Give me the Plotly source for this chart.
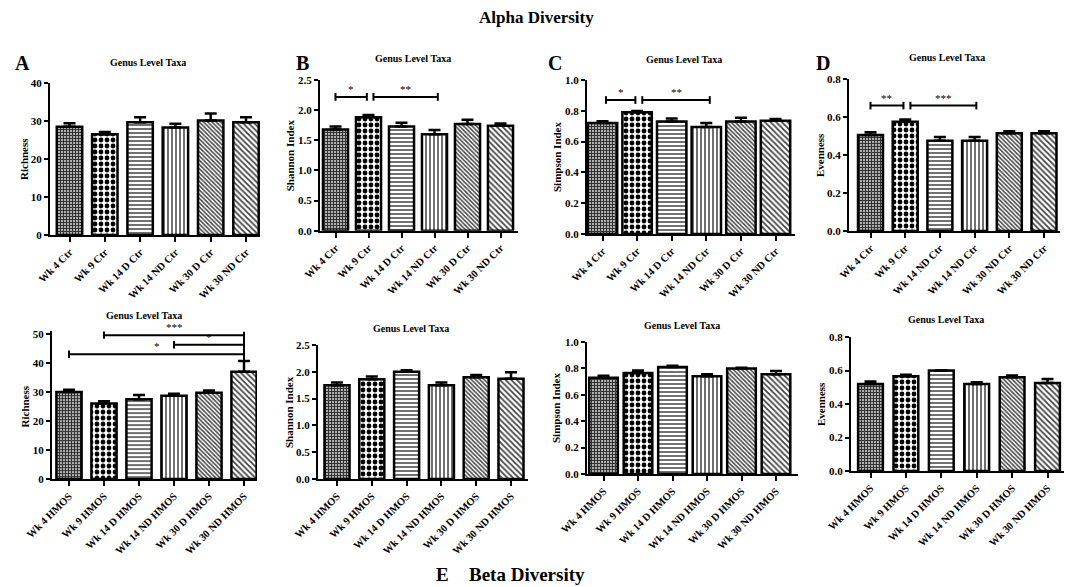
import plotly.graph_objects as go

W, H = 1072, 587
OFF = 8  # page body margin of the browser

# ---------------- data ----------------
ctr_labels = ["Wk 4 Ctr", "Wk 9 Ctr", "Wk 14 D Ctr", "Wk 14 ND Ctr", "Wk 30 D Ctr", "Wk 30 ND Ctr"]
ctr_labels_d = ["Wk 4 Ctr", "Wk 9 Ctr", "Wk 14 ND Ctr", "Wk 14 ND Ctr", "Wk 30 ND Ctr", "Wk 30 ND Ctr"]
hmos_labels = ["Wk 4 HMOS", "Wk 9 HMOS", "Wk 14 D HMOS", "Wk 14 ND HMOS", "Wk 30 D HMOS", "Wk 30 ND HMOS"]

richness_ctr = [28.5, 26.5, 29.7, 28.3, 30.1, 29.7]
richness_ctr_err = [0.9, 0.6, 1.3, 1.0, 1.9, 1.3]
shannon_ctr = [1.68, 1.88, 1.73, 1.60, 1.77, 1.74]
shannon_ctr_err = [0.05, 0.04, 0.06, 0.07, 0.07, 0.04]
simpson_ctr = [0.72, 0.79, 0.73, 0.695, 0.73, 0.735]
simpson_ctr_err = [0.012, 0.008, 0.02, 0.025, 0.025, 0.012]
evenness_ctr = [0.505, 0.575, 0.475, 0.475, 0.515, 0.515]
evenness_ctr_err = [0.015, 0.012, 0.02, 0.02, 0.01, 0.01]

richness_hmos = [30.0, 26.0, 27.5, 28.7, 29.7, 37.0]
richness_hmos_err = [0.8, 0.8, 1.5, 0.7, 0.8, 3.7]
shannon_hmos = [1.75, 1.86, 2.00, 1.75, 1.90, 1.87]
shannon_hmos_err = [0.05, 0.05, 0.03, 0.05, 0.04, 0.12]
simpson_hmos = [0.73, 0.765, 0.81, 0.74, 0.80, 0.755]
simpson_hmos_err = [0.015, 0.02, 0.01, 0.015, 0.005, 0.025]
evenness_hmos = [0.52, 0.565, 0.60, 0.52, 0.56, 0.525]
evenness_hmos_err = [0.015, 0.01, 0.0, 0.01, 0.01, 0.025]

# significance brackets: (from, to, y, label)
sig_shannon_ctr = [(0.0, 0.95, 2.22, "*"), (1.15, 3.1, 2.22, "**")]
sig_simpson_ctr = [(0.1, 0.95, 0.87, "*"), (1.15, 3.1, 0.87, "**")]
sig_evenness_ctr = [(0.0, 0.95, 0.66, "**"), (1.15, 3.05, 0.66, "***")]
sig_richness_hmos = [(1.0, 5.0, 49.6, "***"), (3.0, 5.0, 46.3, "*"), (0.0, 5.0, 43.0, "*")]

# ---------------- layout of panels (pixel geometry) ----------------
panels = [
    dict(labels=ctr_labels, vals=richness_ctr, errs=richness_ctr_err, ytitle="Richness", tx=24,
         ax=50, end=260, c0=69.5, sp=35.3, y0=235, ytop=83, vmax=40, rmax=40, dtick=10, dec=0,
         bw=0.72, letter="A", sig=[]),
    dict(labels=ctr_labels, vals=shannon_ctr, errs=shannon_ctr_err, ytitle="Shannon Index", tx=290,
         ax=320, end=518, c0=335.5, sp=33.0, y0=230.7, ytop=80, vmax=2.5, rmax=2.5, dtick=0.5, dec=1,
         bw=0.76, letter="B", sig=sig_shannon_ctr),
    dict(labels=ctr_labels, vals=simpson_ctr, errs=simpson_ctr_err, ytitle="Simpson Index", tx=557,
         ax=587, end=795, c0=602.5, sp=34.6, y0=234, ytop=80, vmax=1.0, rmax=1.0, dtick=0.2, dec=1,
         bw=0.85, letter="C", sig=sig_simpson_ctr),
    dict(labels=ctr_labels_d, vals=evenness_ctr, errs=evenness_ctr_err, ytitle="Evenness", tx=820,
         ax=849, end=1060, c0=870.5, sp=34.7, y0=231, ytop=79, vmax=0.8, rmax=0.8, dtick=0.2, dec=1,
         bw=0.72, letter="D", sig=sig_evenness_ctr),
    dict(labels=hmos_labels, vals=richness_hmos, errs=richness_hmos_err, ytitle="Richness", tx=24,
         ax=52, end=257, c0=69.0, sp=35.0, y0=479, ytop=334, vmax=50, rmax=51, dtick=10, dec=0,
         bw=0.72, letter=None, sig=sig_richness_hmos),
    dict(labels=hmos_labels, vals=shannon_hmos, errs=shannon_hmos_err, ytitle="Shannon Index", tx=289,
         ax=318, end=528, c0=337.0, sp=34.8, y0=479, ytop=345, vmax=2.5, rmax=2.5, dtick=0.5, dec=1,
         bw=0.72, letter=None, sig=[]),
    dict(labels=hmos_labels, vals=simpson_hmos, errs=simpson_hmos_err, ytitle="Simpson Index", tx=556,
         ax=587, end=798, c0=603.5, sp=34.5, y0=474, ytop=342, vmax=1.0, rmax=1.0, dtick=0.2, dec=1,
         bw=0.83, letter=None, sig=[]),
    dict(labels=hmos_labels, vals=evenness_hmos, errs=evenness_hmos_err, ytitle="Evenness", tx=821,
         ax=851, end=1065, c0=870.5, sp=35.4, y0=471, ytop=337, vmax=0.8, rmax=0.8, dtick=0.2, dec=1,
         bw=0.70, letter=None, sig=[]),
]

title_pos = [(148, 63), (413, 59), (684, 60), (947, 58), (144, 315), (411, 328), (682, 325), (946, 319)]
letter_pos = [(22, 63), (302, 63), (555, 63), (823, 63)]

pattern_shapes = ["+", ".", "-", "|", "\\", "\\"]
pattern_sizes = [3, 6, 4, 4, 3, 4]
pattern_solid = [0.7, 0.5, 0.35, 0.35, 0.5, 0.45]
pattern_fg = ["#333333", "#000000", "#333333", "#333333", "#444444", "#444444"]

FONT = "Liberation Serif"

fig = go.Figure()
layout = dict(
    width=W, height=H, margin=dict(l=0, r=0, t=0, b=0, autoexpand=False),
    plot_bgcolor="white", paper_bgcolor="white", showlegend=False,
    font=dict(family=FONT, color="black"),
)
shapes = []
annotations = []

def px_x(p):
    return (p - OFF) / W

def px_y(p):
    return 1 - (p - OFF) / H

for k, p in enumerate(panels):
    idx = k + 1
    xa = "xaxis" if idx == 1 else f"xaxis{idx}"
    ya = "yaxis" if idx == 1 else f"yaxis{idx}"
    xr = "x" if idx == 1 else f"x{idx}"
    yr = "y" if idx == 1 else f"y{idx}"
    xs = list(range(len(p["vals"])))

    fig.add_trace(go.Bar(
        x=xs, y=p["vals"], xaxis=xr, yaxis=yr, width=p["bw"],
        marker=dict(
            color="white",
            line=dict(color="black", width=2.5),
            pattern=dict(shape=pattern_shapes, size=pattern_sizes, solidity=pattern_solid,
                         fgcolor=pattern_fg, bgcolor="white", fillmode="replace"),
        ),
        error_y=dict(type="data", array=p["errs"], arrayminus=[0] * len(p["errs"]), symmetric=False,
                     color="black", thickness=2.5, width=6),
        hoverinfo="skip",
    ))

    lo = (p["ax"] - p["c0"]) / p["sp"]
    hi = (p["end"] - p["c0"]) / p["sp"]
    scale = (p["y0"] - p["ytop"]) / p["vmax"]
    top_px = p["y0"] - scale * p["rmax"]

    nt = int(round(p["vmax"] / p["dtick"]))
    yt_vals = [i * p["dtick"] for i in range(nt + 1)]
    yt_text = [f"{v:.{p['dec']}f}" for v in yt_vals]

    layout[xa] = dict(
        domain=[px_x(p["ax"]), px_x(p["end"])], range=[lo, hi], anchor=yr, automargin=False,
        tickvals=xs, ticktext=p["labels"], tickangle=-45,
        showline=True, linecolor="black", linewidth=2, ticks="outside", ticklen=5, tickwidth=2,
        tickcolor="black", showgrid=False, zeroline=False, fixedrange=True,
        tickfont=dict(family=FONT, size=10.5, color="black", weight="bold"),
    )
    layout[ya] = dict(
        domain=[px_y(p["y0"]), px_y(top_px)], range=[0, p["rmax"]], anchor=xr, automargin=False,
        tickmode="array", tickvals=yt_vals, ticktext=yt_text,
        showline=True, linecolor="black", linewidth=2, ticks="outside", ticklen=4, tickwidth=2,
        tickcolor="black", showgrid=False, zeroline=False, fixedrange=True,
        tickfont=dict(family=FONT, size=11, color="black", weight="bold"),
    )
    annotations.append(dict(x=px_x(p["tx"]), y=px_y((p["y0"] + p["ytop"]) / 2), xref="paper", yref="paper",
                            text=p["ytitle"], textangle=-90, showarrow=False,
                            xanchor="center", yanchor="middle",
                            font=dict(family=FONT, size=11, color="black", weight="bold")))

    # significance brackets
    tick_h = p["rmax"] * 0.025
    for (a, b, yv, lab) in p["sig"]:
        shapes.append(dict(type="line", xref=xr, yref=yr, x0=a, x1=b, y0=yv, y1=yv,
                           line=dict(color="black", width=2)))
        shapes.append(dict(type="line", xref=xr, yref=yr, x0=a, x1=a, y0=yv - tick_h, y1=yv + tick_h,
                           line=dict(color="black", width=2)))
        if k != 4:
            shapes.append(dict(type="line", xref=xr, yref=yr, x0=b, x1=b, y0=yv - tick_h, y1=yv + tick_h,
                               line=dict(color="black", width=2)))
        annotations.append(dict(x=(a + b) / 2, y=yv, xref=xr, yref=yr, text=lab, showarrow=False,
                                yanchor="bottom", yshift=0,
                                font=dict(family=FONT, size=11, color="black")))
    if k == 4:
        last = len(p["vals"]) - 1
        shapes.append(dict(type="line", xref=xr, yref=yr, x0=last, x1=last,
                           y0=p["vals"][last] + p["errs"][last], y1=50.8,
                           line=dict(color="black", width=2)))

    tx, ty = title_pos[k]
    annotations.append(dict(x=px_x(tx), y=px_y(ty), xref="paper", yref="paper", text="Genus Level Taxa",
                            showarrow=False, xanchor="center", yanchor="middle",
                            font=dict(family=FONT, size=10, color="black", weight="bold")))
    if p["letter"]:
        lx, ly = letter_pos[k]
        annotations.append(dict(x=px_x(lx), y=px_y(ly), xref="paper", yref="paper", text=p["letter"],
                                showarrow=False, xanchor="center", yanchor="middle",
                                font=dict(family=FONT, size=20, color="black", weight="bold")))

annotations.append(dict(x=px_x(536), y=px_y(17), xref="paper", yref="paper", text="Alpha Diversity",
                        showarrow=False, xanchor="center", yanchor="middle",
                        font=dict(family=FONT, size=17, color="black", weight="bold")))
annotations.append(dict(x=px_x(442), y=px_y(574), xref="paper", yref="paper", text="E",
                        showarrow=False, xanchor="center", yanchor="middle",
                        font=dict(family=FONT, size=19, color="black", weight="bold")))
annotations.append(dict(x=px_x(467), y=px_y(574), xref="paper", yref="paper", text="Beta Diversity",
                        showarrow=False, xanchor="left", yanchor="middle",
                        font=dict(family=FONT, size=19, color="black", weight="bold")))

layout["shapes"] = shapes
layout["annotations"] = annotations
fig.update_layout(**layout)
fig.write_html("out.html")
